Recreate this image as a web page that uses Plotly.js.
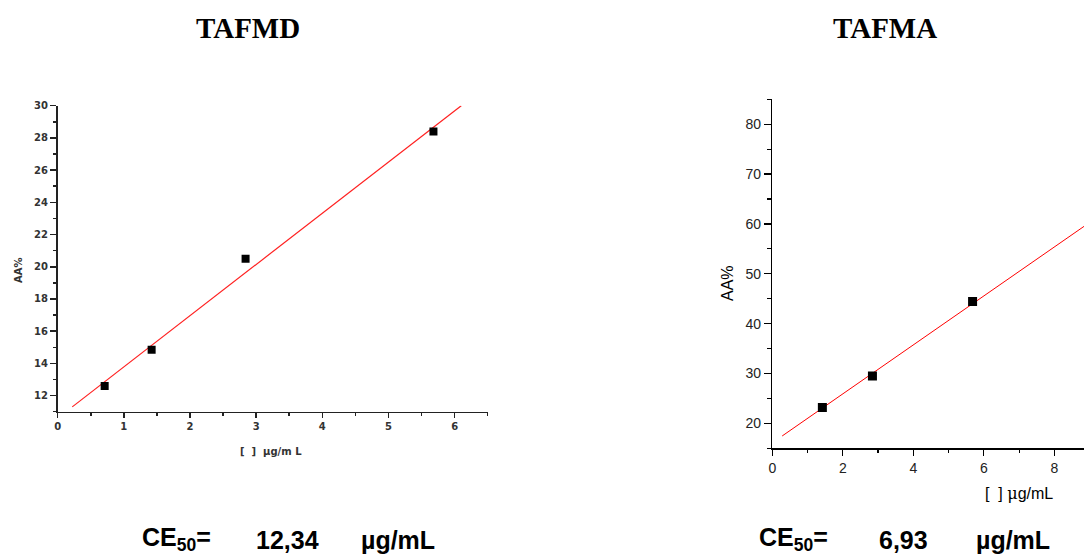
<!DOCTYPE html>
<html>
<head>
<meta charset="utf-8">
<script src="https://cdn.plot.ly/plotly-3.0.1.min.js"></script>
<style>html,body{margin:0;padding:0;background:#fff;}#chart{width:1084px;height:555px;}</style>
</head>
<body>
<div id="chart"></div>
<script>
// TAFMD data
const tafmdConc = [0.71, 1.42, 2.84, 5.68];
const tafmdAA = [12.6, 14.85, 20.5, 28.4];
const tafmdFitX = [0.22, 6.1];
const tafmdFitY = [11.3, 30.0];
// TAFMA data
const tafmaConc = [1.42, 2.84, 5.68];
const tafmaAA = [23.2, 29.5, 44.45];
const tafmaFitX = [0.28, 9.0];
const tafmaFitY = [17.47, 60.3];
// labels
const titles = ["TAFMD", "TAFMA"];
const ce50Values = ["12,34", "6,93"];
const xLabelLeft = "[  ]  \u00b5g/m L";
const xLabelRight = "[  ] <span style=\"font-family:'DejaVu Serif'\">\u03bc</span>g/mL";
const yLabel = "AA%";

const W = 1084, H = 555;
const px = v => v / W;
const py = v => (H - v) / H;

const traces = [
  {x: tafmdFitX, y: tafmdFitY, xaxis: 'x', yaxis: 'y', mode: 'lines',
   line: {color: '#ff2020', width: 1.2}, hoverinfo: 'skip'},
  {x: tafmdConc, y: tafmdAA, xaxis: 'x', yaxis: 'y', mode: 'markers',
   marker: {symbol: 'square', size: 8, color: '#000'}},
  {x: tafmaFitX, y: tafmaFitY, xaxis: 'x2', yaxis: 'y2', mode: 'lines',
   line: {color: '#ff0000', width: 1}, hoverinfo: 'skip'},
  {x: tafmaConc, y: tafmaAA, xaxis: 'x2', yaxis: 'y2', mode: 'markers',
   marker: {symbol: 'square', size: 9, color: '#000'}}
];

const leftTick = {family: 'DejaVu Sans', size: 10, color: '#333', weight: 'bold'};
const rightTick = {family: 'Liberation Sans, Arial', size: 14, color: '#222'};

const ann = [];
function addText(text, x, y, font, xanchor) {
  ann.push({text: text, x: px(x), y: py(y), xref: 'paper', yref: 'paper',
    xanchor: xanchor || 'left', yanchor: 'middle', showarrow: false, font: font});
}
const titleFont = {family: 'Liberation Serif, Times New Roman', size: 29, color: '#000', weight: 'bold'};
addText(titles[0], 248, 28, titleFont, 'center');
addText(titles[1], 885, 28, titleFont, 'center');
const ceFont = {family: 'Liberation Sans, Arial', size: 25, color: '#000', weight: 'bold'};
addText("CE<sub>50</sub>=", 140, 539, ceFont);
addText(ce50Values[0], 254, 540, ceFont);
addText("\u00b5g/mL", 359, 540, ceFont);
addText("CE<sub>50</sub>=", 757, 539, ceFont);
addText(ce50Values[1], 877, 540, ceFont);
addText("\u00b5g/mL", 974, 540, ceFont);
// axis titles
addText(xLabelLeft, 271, 451, {family: 'DejaVu Sans', size: 10, color: '#333', weight: 'bold'}, 'center');
addText(xLabelRight, 1019, 493, {family: 'Liberation Sans, Arial', size: 16, color: '#000'}, 'center');
ann.push({text: yLabel, x: px(18), y: py(270), xref: 'paper', yref: 'paper', textangle: -90,
  xanchor: 'center', yanchor: 'middle', showarrow: false,
  font: {family: 'DejaVu Sans', size: 10, color: '#333', weight: 'bold'}});
ann.push({text: yLabel, x: px(727), y: py(283), xref: 'paper', yref: 'paper', textangle: -90,
  xanchor: 'center', yanchor: 'middle', showarrow: false,
  font: {family: 'Liberation Sans, Arial', size: 16, color: '#000'}});

const layout = {
  width: W, height: H,
  margin: {l: 0, r: 0, t: 0, b: 0},
  paper_bgcolor: '#fff', plot_bgcolor: '#fff',
  showlegend: false,
  xaxis: {domain: [px(57.7), px(487.7)], range: [0, 6.5], anchor: 'y',
    showline: true, linecolor: '#222', linewidth: 1.7, showgrid: false, zeroline: false,
    ticks: 'outside', ticklen: 5, tickwidth: 1.5, tickcolor: '#222', dtick: 1, tick0: 0,
    minor: {dtick: 0.5, ticks: 'outside', ticklen: 3, tickcolor: '#222', tickwidth: 1.5},
    tickfont: leftTick},
  yaxis: {domain: [py(411.7), py(105.7)], range: [11, 30], anchor: 'x',
    showline: true, linecolor: '#222', linewidth: 1.7, showgrid: false, zeroline: false,
    ticks: 'outside', ticklen: 6, tickwidth: 1.5, tickcolor: '#222', dtick: 2, tick0: 12,
    minor: {dtick: 1, ticks: 'outside', ticklen: 3, tickcolor: '#222', tickwidth: 1.5},
    tickfont: leftTick},
  xaxis2: {domain: [px(772.3), 1], range: [0, 8.84], anchor: 'y2',
    showline: true, linecolor: '#000', linewidth: 1.5, showgrid: false, zeroline: false,
    ticks: 'outside', ticklen: 6, tickwidth: 1.2, tickcolor: '#000', dtick: 2, tick0: 0,
    minor: {dtick: 1, ticks: 'outside', ticklen: 3, tickcolor: '#000', tickwidth: 1.2},
    tickfont: rightTick},
  yaxis2: {domain: [py(448.3), py(99.3)], range: [15, 85], anchor: 'x2',
    showline: true, linecolor: '#000', linewidth: 1.5, showgrid: false, zeroline: false,
    ticks: 'outside', ticklen: 7, tickwidth: 1.2, tickcolor: '#000', dtick: 10, tick0: 20,
    minor: {dtick: 5, ticks: 'outside', ticklen: 4, tickcolor: '#000', tickwidth: 1.2},
    tickfont: rightTick},
  annotations: ann
};

Plotly.newPlot('chart', traces, layout, {displayModeBar: false, staticPlot: true});
</script>
</body>
</html>
